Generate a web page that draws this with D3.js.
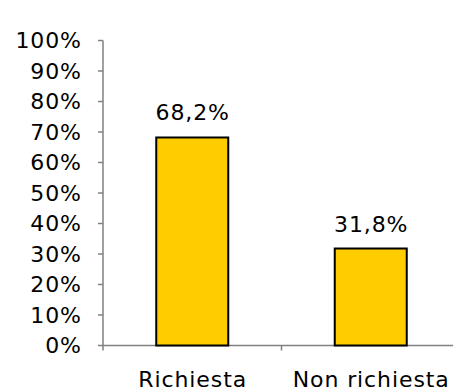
<!DOCTYPE html>
<html><head><meta charset="utf-8">
<script src="https://cdn.jsdelivr.net/npm/d3@7"></script>
<style>body{margin:0;background:#fff}svg{display:block}</style>
</head><body><svg id="c" width="453" height="392"></svg>
<script>
const categories = ["Richiesta", "Non richiesta"];
const values = [68.2, 31.8];
const valueLabels = ["68,2%", "31,8%"];
const yTicks = [0,10,20,30,40,50,60,70,80,90,100];

const svg = d3.select("#c");
const font = "'DejaVu Sans', Verdana, sans-serif";
const fs = 22, ls = 0.9;
const x0 = 103, x1 = 460, yTop = 40.5, yBot = 345.5;
const x = d3.scaleBand().domain(categories).range([x0, x1]).paddingInner(0).paddingOuter(0);
const y = d3.scaleLinear().domain([0,100]).range([yBot, yTop]);

function txt(sel){
  return sel.attr("font-family",font).attr("font-size",fs).attr("letter-spacing",ls).attr("fill","#000");
}

// y axis
const ya = svg.append("g");
ya.append("line").attr("x1",x0).attr("x2",x0).attr("y1",y(100)).attr("y2",y(0)+5).attr("stroke","#808080").attr("stroke-width",1.5);
yTicks.forEach(t=>{
  ya.append("line").attr("x1",x0-5).attr("x2",x0).attr("y1",y(t)).attr("y2",y(t)).attr("stroke","#808080").attr("stroke-width",1.5);
  txt(ya.append("text").attr("x",81+ls).attr("y",y(t)).attr("dy","0.36em").attr("text-anchor","end")).text(t+"%");
});
// x axis
svg.append("line").attr("x1",x0).attr("x2",453).attr("y1",y(0)).attr("y2",y(0)).attr("stroke","#808080").attr("stroke-width",1.5);
categories.forEach((c,i)=>{
  if(i>0){
    const xt = x(c);
    svg.append("line").attr("x1",xt).attr("x2",xt).attr("y1",y(0)).attr("y2",y(0)+5).attr("stroke","#808080").attr("stroke-width",1.5);
  }
  txt(svg.append("text").attr("x",x(c)+x.bandwidth()/2+ls/2).attr("y",387).attr("text-anchor","middle")).text(c);
});
// bars
const bw = 72;
svg.selectAll("rect.bar").data(values).enter().append("rect")
  .attr("x",(d,i)=>x(categories[i])+x.bandwidth()/2-bw/2)
  .attr("y",d=>y(d)).attr("width",bw).attr("height",d=>y(0)-y(d))
  .attr("fill","#FFCC00").attr("stroke","#000").attr("stroke-width",2);
txt(svg.selectAll("text.lbl").data(values).enter().append("text")
  .attr("x",(d,i)=>x(categories[i])+x.bandwidth()/2+ls/2).attr("y",d=>y(d)-17)
  .attr("text-anchor","middle"))
  .text((d,i)=>valueLabels[i]);
</script></body></html>
